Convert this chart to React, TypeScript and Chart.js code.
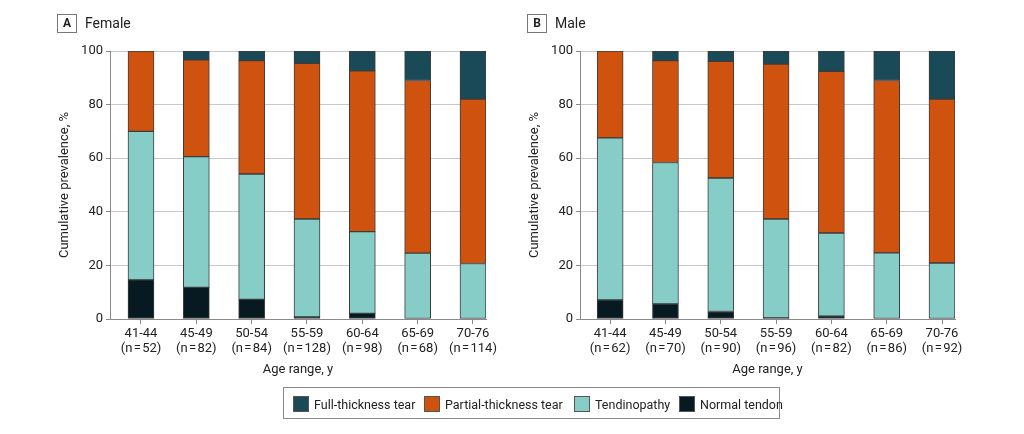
import React, { useEffect, useRef } from "react";
import { Chart, registerables } from "chart.js";

Chart.register(...registerables);

// ---------- data ----------
const ageRanges = ["41-44", "45-49", "50-54", "55-59", "60-64", "65-69", "70-76"];
const femaleN = [52, 82, 84, 128, 98, 68, 114];
const maleN = [62, 70, 90, 96, 82, 86, 92];

// stacked segment values, % (bottom to top: normal, tendinopathy, partial, full)
const femaleNormal = [14.6, 11.8, 7.3, 0.8, 2.1, 0, 0];
const femaleTendinopathy = [55.4, 48.8, 46.8, 36.5, 30.5, 24.6, 20.7];
const femalePartial = [30.0, 36.1, 42.3, 58.1, 60.0, 64.4, 61.4];
const femaleFull = [0, 3.3, 3.6, 4.6, 7.4, 11.0, 17.9];

const maleNormal = [7.1, 5.6, 2.8, 0.4, 1.1, 0, 0];
const maleTendinopathy = [60.5, 52.8, 49.8, 36.9, 31.0, 24.7, 20.9];
const malePartial = [32.4, 38.0, 43.5, 57.8, 60.3, 64.3, 61.2];
const maleFull = [0, 3.6, 3.9, 4.9, 7.6, 11.0, 17.9];

const seriesNames = ["Full-thickness tear", "Partial-thickness tear", "Tendinopathy", "Normal tendon"];
const seriesColors = ["#1a4a57", "#d0520f", "#86cdc7", "#071a22"];

const yTicks = [0, 20, 40, 60, 80, 100];

const FONT = "Roboto, 'Noto Sans', sans-serif";
const TEXT = "#222222";

type PanelProps = {
  letter: string;
  title: string;
  offsetX: number;
  plotLeft: number;
  plotRight: number;
  xMin: number;
  nValues: number[];
  normal: number[];
  tend: number[];
  partial: number[];
  full: number[];
};

function Panel(p: PanelProps) {
  const ref = useRef<HTMLCanvasElement>(null);
  useEffect(() => {
    if (!ref.current) return;
    const W = 512;
    const H = 434;
    const plotTop = 51;
    const plotBottom = 319;
    const xAxisBottom = 385;
    const titleCenter = p.plotLeft - 45;
    const titleLine = 13 * 1.2;
    const padLeft = titleCenter - p.offsetX - titleLine / 2 - 4;
    const yWidth = p.plotLeft - p.offsetX - padLeft;
    const padRight = W - (p.plotRight - p.offsetX);

    const toPts = (arr: number[]) => arr.map((v, i) => ({ x: i, y: v === 0 ? null : v }));
    const segs = [p.full, p.partial, p.tend, p.normal];
    const datasets = [3, 2, 1, 0].map((k) => ({
      label: seriesNames[k],
      data: toPts(segs[k]),
      backgroundColor: seriesColors[k],
      borderColor: "#3c3c3c",
      borderWidth: 1,
      borderSkipped: false as const,
      barThickness: 26,
    }));

    const chart = new Chart(ref.current, {
      type: "bar",
      data: { datasets },
      options: {
        animation: false,
        responsive: false,
        devicePixelRatio: 1,
        layout: {
          padding: { left: padLeft, right: padRight, top: plotTop, bottom: H - xAxisBottom },
        },
        plugins: { legend: { display: false }, tooltip: { enabled: false } },
        scales: {
          x: {
            type: "linear",
            stacked: true,
            offset: false,
            min: p.xMin,
            max: 6.235,
            afterBuildTicks: (s: any) => {
              s.ticks = ageRanges.map((_, i) => ({ value: i }));
            },
            afterFit: (s: any) => {
              s.height = xAxisBottom - plotBottom;
            },
            grid: {
              offset: false,
              drawOnChartArea: false,
              drawTicks: true,
              tickLength: 5,
              tickColor: "#8a8a8a",
            },
            border: { display: true, color: "#8a8a8a", width: 1 },
            ticks: {
              autoSkip: false,
              maxRotation: 0,
              padding: 2,
              color: TEXT,
              font: { family: FONT, size: 13, lineHeight: 1.15 },
              callback: (v: any) => {
                const i = Math.round(Number(v));
                return [ageRanges[i], "(n\u200A=\u200A" + p.nValues[i] + ")"];
              },
            },
            title: {
              display: true,
              text: "Age range, y",
              color: TEXT,
              font: { family: FONT, size: 13 },
              padding: { top: 0, bottom: 7 },
            },
          },
          y: {
            stacked: true,
            min: 0,
            max: 100,
            afterBuildTicks: (s: any) => {
              s.ticks = yTicks.map((v) => ({ value: v }));
            },
            afterFit: (s: any) => {
              s.width = yWidth;
            },
            grid: {
              color: "#c8c8c8",
              tickColor: "#8a8a8a",
              tickLength: 4,
              lineWidth: 1,
            },
            border: { display: true, color: "#8a8a8a", width: 1 },
            ticks: {
              padding: 3,
              color: TEXT,
              font: { family: FONT, size: 13 },
            },
            title: {
              display: true,
              text: "Cumulative prevalence, %",
              color: TEXT,
              font: { family: FONT, size: 13 },
              padding: { top: 4, bottom: 0 },
            },
          },
        },
      } as any,
    });
    return () => chart.destroy();
  }, []);

  const boxLeft = p.plotLeft - 53;
  return (
    <>
      <canvas
        ref={ref}
        width={512}
        height={434}
        style={{ position: "absolute", left: p.offsetX, top: 0, width: 512, height: 434 }}
      />
      <div
        style={{
          position: "absolute",
          left: boxLeft,
          top: 14,
          width: 18,
          height: 17,
          border: "1px solid #777",
          fontFamily: FONT,
          fontWeight: 700,
          fontSize: 12,
          lineHeight: "17px",
          textAlign: "center",
          color: TEXT,
        }}
      >
        {p.letter}
      </div>
      <div
        style={{
          position: "absolute",
          left: boxLeft + 28,
          top: 14,
          fontFamily: FONT,
          fontSize: 14,
          lineHeight: "19px",
          color: TEXT,
        }}
      >
        {p.title}
      </div>
    </>
  );
}

const legendSwatchX = [293, 424, 574, 679];

export default function App() {
  return (
    <div
      style={{
        position: "absolute",
        left: 0,
        top: 0,
        width: 1024,
        height: 434,
        background: "#ffffff",
        overflow: "hidden",
      }}
    >
      <Panel
        letter="A"
        title="Female"
        offsetX={0}
        plotLeft={110}
        plotRight={486}
        xMin={-0.56}
        nValues={femaleN}
        normal={femaleNormal}
        tend={femaleTendinopathy}
        partial={femalePartial}
        full={femaleFull}
      />
      <Panel
        letter="B"
        title="Male"
        offsetX={512}
        plotLeft={580}
        plotRight={955}
        xMin={-0.545}
        nValues={maleN}
        normal={maleNormal}
        tend={maleTendinopathy}
        partial={malePartial}
        full={maleFull}
      />
      <div
        style={{
          position: "absolute",
          left: 283,
          top: 387,
          width: 497,
          height: 32,
          border: "1px solid #8a8a8a",
          boxSizing: "border-box",
        }}
      />
      {seriesNames.map((name, k) => (
        <div
          key={name}
          style={{
            position: "absolute",
            left: legendSwatchX[k],
            top: 396,
            height: 16,
            display: "flex",
            alignItems: "center",
            fontFamily: FONT,
            fontSize: 12.5,
            color: TEXT,
            whiteSpace: "nowrap",
          }}
        >
          <span
            style={{
              display: "inline-block",
              width: 14,
              height: 14,
              background: seriesColors[k],
              border: "1px solid #555",
              marginRight: 5,
            }}
          />
          {name}
        </div>
      ))}
    </div>
  );
}
